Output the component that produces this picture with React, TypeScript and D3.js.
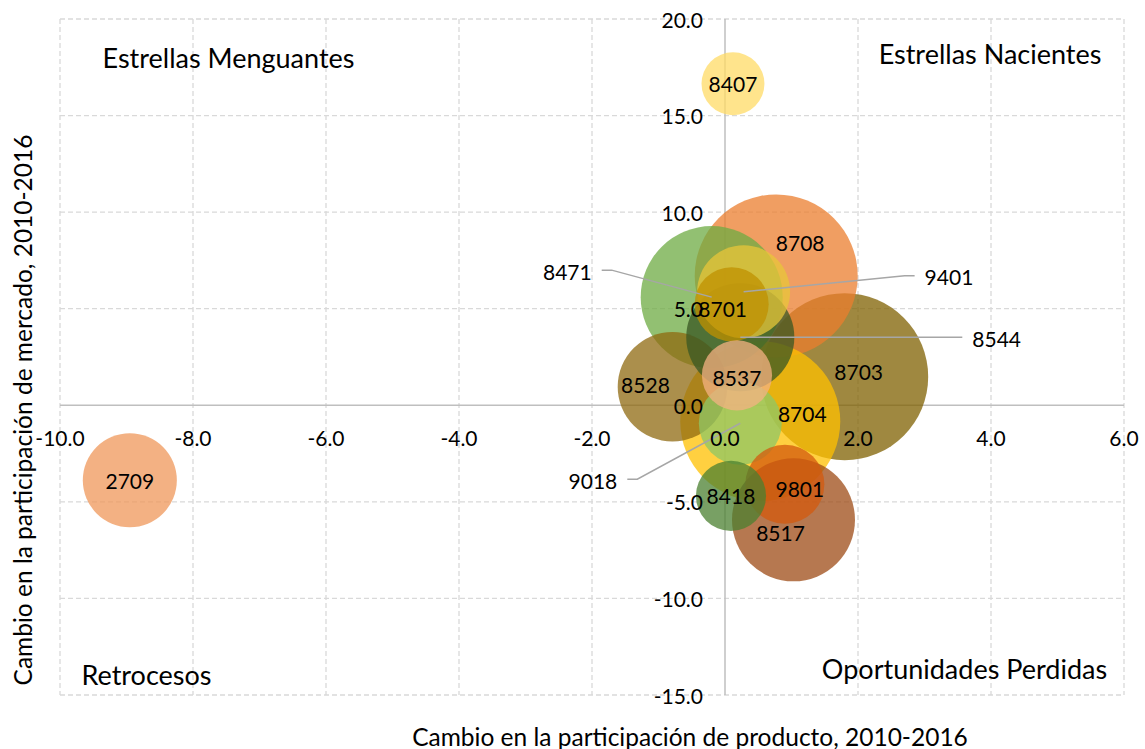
import React from 'react';
import * as d3 from 'd3';

// ---- data ----
const codes = ['2709', '8407', '8708', '8471', '9401', '8701', '8544', '8537', '8528', '8703', '8704', '9018', '9801', '8517', '8418'];
const productShareChange = [-8.95, 0.12, 0.77, -0.2, 0.28, 0.1, 0.23, 0.18, -0.79, 1.8, 0.53, 0.23, 0.9, 1.03, 0.09];
const marketShareChange = [-3.88, 16.65, 6.7, 5.6, 5.88, 5.23, 3.52, 1.55, 0.96, 1.48, -0.83, -0.93, -4.09, -5.93, -4.69];
const bubbleSize = [221, 99, 664, 504, 216, 137, 292, 123, 300, 697, 640, 172, 156, 378, 123];
const xTicks = [-10, -8, -6, -4, -2, 0, 2, 4, 6];
const yTicks = [-15, -10, -5, 0, 5, 10, 15, 20];
const quadrantNames = ['Estrellas Menguantes', 'Estrellas Nacientes', 'Retrocesos', 'Oportunidades Perdidas'];
const xTitle = 'Cambio en la participación de producto, 2010-2016';
const yTitle = 'Cambio en la participación de mercado, 2010-2016';

// ---- styles ----
const colors: Record<string, string> = {
  '2709': '#EF9759', '8407': '#FFDB65', '8708': '#EB7D2D', '8471': '#6EAB43', '9401': '#E8C53A',
  '8701': '#BF9000', '8544': '#385723', '8537': '#F4B183', '8528': '#8F6A10', '8703': '#7F6000',
  '8704': '#FFC000', '9018': '#8DC766', '9801': '#D35A0E', '8517': '#9D4B15', '8418': '#4B8030',
};
// label placement (pixel offsets from bubble centre)
const labelOffset: Record<string, [number, number]> = {
  '2709': [0, 0], '8407': [0, 0], '8708': [24, -33], '8701': [-9, 4], '8537': [0, 2],
  '8528': [-27, -2], '8703': [14, -5], '8704': [42, -8], '9801': [15, 4], '8517': [-13, 13], '8418': [0, 0],
};
const leaderLabel: Record<string, { dx: number; dy: number; anchor: 'start' | 'end' }> = {
  '8471': { dx: -120, dy: -26, anchor: 'end' },
  '9401': { dx: 181, dy: -15, anchor: 'start' },
  '8544': { dx: 232, dy: 1, anchor: 'start' },
  '9018': { dx: -123, dy: 57, anchor: 'end' },
};

const W = 1145, H = 749;
const FONT = 'Lato, "Open Sans", sans-serif';

export default function App() {
  const x = d3.scaleLinear().domain([-10, 6]).range([60, 1124]);
  const y = d3.scaleLinear().domain([-15, 20]).range([695, 19]);
  const r = d3.scaleSqrt().domain([0, d3.max(bubbleSize)!]).range([0, 83.5]);

  const items = codes.map((c, i) => ({
    code: c, cx: x(productShareChange[i]), cy: y(marketShareChange[i]), rr: r(bubbleSize[i]), size: bubbleSize[i],
  }));
  const drawOrder = [...items].sort((a, b) => b.size - a.size);
  const fmt = (t: number) => d3.format('.1f')(t).replace('−', '-');

  return (
    <svg width={W} height={H} style={{ position: 'absolute', left: 0, top: 0, background: '#fff' }} fontFamily={FONT}>
      {/* grid */}
      {xTicks.filter(t => t !== 0).map(t => (
        <line key={'gx' + t} x1={x(t)} x2={x(t)} y1={y(20)} y2={y(-15)} stroke="#D9D9D9" strokeWidth={1.3} strokeDasharray="5,3" />
      ))}
      {yTicks.filter(t => t !== 0).map(t => (
        <line key={'gy' + t} x1={x(-10)} x2={x(6)} y1={y(t)} y2={y(t)} stroke="#D9D9D9" strokeWidth={1.3} strokeDasharray="5,3" />
      ))}
      {/* axes */}
      <line x1={x(-10)} x2={x(6)} y1={y(0)} y2={y(0)} stroke="#BFBFBF" strokeWidth={1.5} />
      <line x1={x(0)} x2={x(0)} y1={y(20)} y2={y(-15)} stroke="#BFBFBF" strokeWidth={1.5} />

      {/* bubbles */}
      {drawOrder.map(d => (
        <circle key={d.code} cx={d.cx} cy={d.cy} r={d.rr} fill={colors[d.code]} fillOpacity={0.75} />
      ))}

      {/* leader lines */}
      {items.filter(d => leaderLabel[d.code]).map(d => {
        const L = leaderLabel[d.code];
        const tx = d.cx + L.dx, ty = d.cy + L.dy;
        const sgn = L.anchor === 'end' ? 1 : -1;
        const p0: [number, number] = [tx + sgn * 10, ty - 1];
        const p1: [number, number] = [tx + sgn * 20, ty - 1];
        const path = d3.line()([p0, p1, [d.cx, d.cy]]);
        return <path key={'ll' + d.code} d={path!} fill="none" stroke="#A6A6A6" strokeWidth={1.5} />;
      })}

      {/* tick labels */}
      {xTicks.map(t => (
        <text key={'tx' + t} x={x(t)} y={437} textAnchor="middle" dominantBaseline="central" fontSize={21} fill="#000">{fmt(t)}</text>
      ))}
      {yTicks.map(t => (
        <text key={'ty' + t} x={703} y={y(t)} textAnchor="end" dominantBaseline="central" fontSize={21} fill="#000">{fmt(t)}</text>
      ))}

      {/* bubble labels */}
      {items.map(d => {
        const L = leaderLabel[d.code];
        if (L) {
          return <text key={'lb' + d.code} x={d.cx + L.dx} y={d.cy + L.dy} textAnchor={L.anchor} dominantBaseline="central" fontSize={21}>{d.code}</text>;
        }
        const o = labelOffset[d.code];
        return <text key={'lb' + d.code} x={d.cx + o[0]} y={d.cy + o[1]} textAnchor="middle" dominantBaseline="central" fontSize={21}>{d.code}</text>;
      })}

      {/* quadrant names */}
      <text x={228.5} y={57} textAnchor="middle" dominantBaseline="central" fontSize={27}>{quadrantNames[0]}</text>
      <text x={990} y={53} textAnchor="middle" dominantBaseline="central" fontSize={27}>{quadrantNames[1]}</text>
      <text x={146.5} y={674} textAnchor="middle" dominantBaseline="central" fontSize={27}>{quadrantNames[2]}</text>
      <text x={964.5} y={668} textAnchor="middle" dominantBaseline="central" fontSize={27}>{quadrantNames[3]}</text>

      {/* axis titles */}
      <text x={690} y={736} textAnchor="middle" dominantBaseline="central" fontSize={24.5}>{xTitle}</text>
      <text transform={`translate(22,410) rotate(-90)`} textAnchor="middle" dominantBaseline="central" fontSize={24.5}>{yTitle}</text>
    </svg>
  );
}
